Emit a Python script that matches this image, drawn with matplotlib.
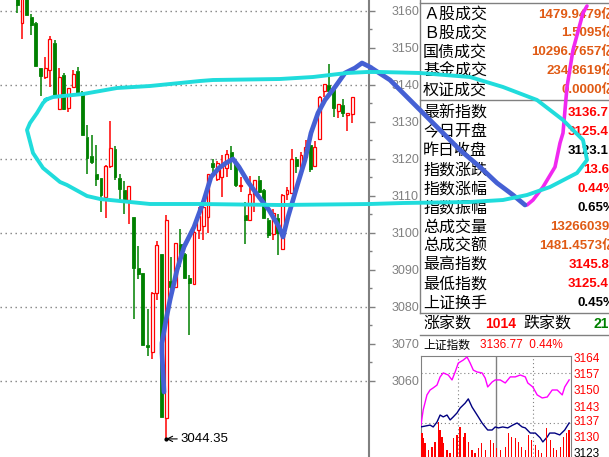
import matplotlib
matplotlib.use("Agg")
import matplotlib.pyplot as plt
from matplotlib.patches import Rectangle

plt.rcParams["font.family"] = ["Liberation Sans", "Noto Sans CJK SC", "DejaVu Sans"]

W, H = 609, 457
GRAY = "#808080"
UP = "#FF0000"
DOWN = "#008000"
ORANGE = "#E05A14"

# daily candles, oldest first
opens = [3163.5, 3156.7, 3164.0, 3158.3, 3156.7, 3144.5, 3142.2, 3144.0, 3151.3, 3133.4,
         3142.6, 3133.7, 3139.4, 3143.8, 3138.1, 3126.0, 3120.8, 3116.0, 3114.8, 3109.8,
         3118.2, 3122.6, 3114.8, 3111.6, 3108.9, 3104.3, 3090.6, 3089.2, 3069.7, 3067.9,
         3083.7, 3094.3, 3049.9, 3087.0, 3085.5, 3097.0, 3094.3, 3087.9, 3086.1, 3100.8,
         3101.9, 3104.4, 3118.8, 3114.5, 3115.2, 3117.5, 3122.0, 3119.3, 3112.7, 3104.9,
         3103.5, 3110.5, 3114.3, 3111.6, 3103.5, 3099.6, 3104.0, 3095.6, 3110.5, 3110.9,
         3119.9, 3117.9, 3120.6, 3123.8, 3118.2, 3125.3, 3138.4, 3140.0, 3139.3, 3133.1,
         3134.6, 3132.0, 3132.1]
highs = [3165.0, 3165.5, 3165.0, 3159.2, 3157.0, 3144.5, 3147.5, 3153.2, 3152.2, 3144.5,
         3143.3, 3139.1, 3144.1, 3144.9, 3138.5, 3129.2, 3126.5, 3123.8, 3114.8, 3118.4,
         3130.3, 3123.5, 3116.0, 3114.1, 3112.7, 3104.3, 3096.5, 3089.2, 3079.5, 3084.0,
         3097.9, 3094.3, 3104.9, 3093.6, 3097.2, 3101.1, 3094.5, 3088.6, 3102.4, 3107.1,
         3107.0, 3116.0, 3119.9, 3119.5, 3121.1, 3122.4, 3123.6, 3119.5, 3115.2, 3108.5,
         3115.4, 3114.3, 3115.4, 3111.9, 3104.0, 3106.4, 3105.1, 3110.5, 3112.5, 3122.7,
         3120.6, 3121.9, 3125.1, 3124.9, 3124.9, 3137.0, 3140.2, 3145.7, 3139.3, 3134.8,
         3136.1, 3132.4, 3136.7]
lows = [3159.5, 3152.5, 3159.0, 3153.6, 3145.2, 3137.1, 3141.5, 3139.4, 3136.5, 3133.2,
        3133.2, 3132.8, 3139.4, 3137.6, 3126.6, 3116.0, 3118.6, 3112.7, 3105.8, 3104.0,
        3117.6, 3114.3, 3108.9, 3105.2, 3102.4, 3076.8, 3087.5, 3069.7, 3066.8, 3066.0,
        3081.9, 3050.4, 3044.35, 3082.2, 3085.5, 3090.9, 3087.9, 3072.4, 3086.1, 3098.3,
        3098.1, 3099.9, 3115.9, 3114.0, 3109.6, 3115.2, 3117.0, 3112.3, 3111.2, 3097.0,
        3103.3, 3105.8, 3110.9, 3104.0, 3098.6, 3098.1, 3094.1, 3095.5, 3109.0, 3110.9,
        3116.1, 3117.9, 3120.0, 3116.5, 3118.2, 3125.3, 3136.7, 3138.0, 3131.4, 3131.0,
        3131.4, 3127.6, 3129.8]
closes = [3161.7, 3164.0, 3159.0, 3156.3, 3145.2, 3142.5, 3144.5, 3152.4, 3136.8, 3142.1,
          3133.5, 3139.1, 3143.0, 3137.6, 3126.6, 3120.4, 3119.1, 3114.6, 3110.3, 3118.1,
          3122.9, 3115.2, 3112.0, 3108.9, 3112.7, 3090.6, 3088.9, 3069.7, 3069.3, 3083.7,
          3096.8, 3050.4, 3103.5, 3085.3, 3097.2, 3093.8, 3087.9, 3086.4, 3100.4, 3104.6,
          3106.9, 3115.9, 3117.9, 3119.0, 3117.9, 3121.3, 3119.9, 3113.0, 3113.0, 3103.5,
          3110.5, 3114.3, 3111.2, 3104.0, 3099.5, 3105.3, 3099.9, 3110.3, 3111.6, 3119.9,
          3118.2, 3121.1, 3123.3, 3117.3, 3123.2, 3136.8, 3140.2, 3138.5, 3133.7, 3134.8,
          3132.4, 3132.4, 3136.7]

price_ticks = list(range(3060, 3161, 10))
grid_levels = list(range(3060, 3161, 20))

# quote panel
trade_labels = ["Ａ股成交", "Ｂ股成交", "国债成交", "基金成交", "权证成交"]
trade_values = ["1479.9479亿", "1.5095亿", "10296.7657亿", "234.8619亿", "0.0000亿"]
index_labels = ["最新指数", "今日开盘", "昨日收盘", "指数涨跌", "指数涨幅", "指数振幅",
                "总成交量", "总成交额", "最高指数", "最低指数", "上证换手"]
index_values = ["3136.7", "3125.4", "3123.1", "13.6", "0.44%", "0.65%",
                "13266039", "1481.4573亿", "3145.8", "3125.4", "0.45%"]
index_colors = [UP, UP, "black", UP, UP, "black", ORANGE, ORANGE, UP, UP, "black"]
up_count = "1014"
down_count = "21"

# intraday mini chart
pink_t = [0, 4, 10, 15, 20, 26, 31, 36, 44, 50, 55, 60, 68, 74, 79, 84, 90, 98, 103,
          107, 114, 119, 127, 135, 143, 151, 159, 167, 171, 179, 186, 194, 202, 210,
          218, 226, 230, 237]
pink_v = [3134.2, 3141.4, 3147.8, 3149.9, 3150.8, 3152.0, 3155.5, 3157.2, 3156.3, 3154.2,
          3157.6, 3161.4, 3162.7, 3164.0, 3161.4, 3158.4, 3157.6, 3157.2, 3155.0, 3151.2,
          3153.3, 3154.2, 3154.2, 3152.9, 3155.5, 3155.5, 3156.3, 3155.5, 3152.9, 3151.2,
          3147.8, 3146.5, 3146.9, 3149.9, 3149.9, 3147.8, 3151.2, 3154.2]
navy_t = [0, 15, 20, 26, 31, 36, 42, 47, 52, 58, 63, 71, 76, 82, 87, 92, 98, 103, 107,
          114, 119, 124, 131, 139, 147, 154, 162, 167, 175, 183, 191, 195, 202, 206,
          214, 222, 230, 237]
navy_v = [3134.1, 3134.9, 3134.1, 3136.2, 3139.2, 3138.4, 3139.2, 3137.1, 3138.4, 3140.1,
          3142.2, 3144.3, 3146.1, 3142.6, 3140.5, 3138.4, 3135.8, 3134.1, 3132.8, 3132.8,
          3134.1, 3133.7, 3134.1, 3133.7, 3134.9, 3135.8, 3134.1, 3133.7, 3131.5, 3131.5,
          3129.4, 3127.7, 3129.8, 3131.5, 3131.5, 3130.7, 3132.8, 3135.8]
vol_t = [2, 4, 7, 12, 18, 23, 28, 31, 34, 36, 42, 47, 52, 58, 63, 68, 71, 76, 82, 87,
         92, 97, 103, 111, 116, 121, 127, 135, 140, 145, 151, 156, 161, 167, 172, 177,
         183, 188, 193, 201, 207, 212, 217, 223, 228, 233, 237]
vol = [24, 19, 14, 7, 10, 15, 35, 27, 20, 14, 7, 4, 19, 22, 30, 20, 24, 15, 7, 4,
       9, 14, 7, 17, 14, 9, 7, 10, 24, 20, 19, 15, 10, 7, 22, 17, 12, 7, 4, 29,
       17, 9, 7, 10, 20, 24, 27]
mini_ticks = [3164, 3157, 3150, 3143, 3137, 3130, 3123]

# hand-drawn strokes on the screenshot (screen pixels)
cyan_x = [45, 53, 83, 100, 117, 150, 200, 213, 280, 313, 347, 367, 380, 420, 470, 503,
          537, 563, 583, 587, 577, 550, 527, 503, 470, 403, 370, 280, 200, 150, 100, 87,
          67, 60, 43, 33, 27, 30, 37, 43, 47]
cyan_y = [100, 97, 94, 91, 88, 86, 81, 80, 79, 77, 73, 72, 72, 73, 77, 87, 100, 120,
          140, 160, 173, 187, 195, 200, 202, 203, 204, 205, 204, 204, 199, 196, 185, 182,
          168, 153, 130, 123, 113, 103, 99]
blue_x = [164, 162, 162, 166, 170, 174, 177, 184, 194, 204, 211, 219, 226, 233, 239, 248,
          259, 269, 279, 283, 288, 293, 298, 305, 311, 318, 325, 335, 345, 355, 362, 370,
          390, 420, 460, 480, 497, 513, 525]
blue_y = [392, 353, 343, 320, 300, 283, 270, 247, 227, 200, 177, 168, 163, 159, 167, 182,
          197, 210, 227, 237, 217, 200, 183, 160, 133, 113, 100, 87, 73, 68, 63, 67, 80,
          110, 150, 167, 183, 195, 205]
pink_x = [527, 533, 543, 555, 560, 563, 567, 573, 583, 587]
pink_y = [205, 200, 187, 167, 143, 133, 87, 50, 13, 6]


def main():
    fig = plt.figure(figsize=(W / 100, H / 100), dpi=100)
    fig.patch.set_facecolor("white")

    # ---- candlestick chart ----
    ax = fig.add_axes([0, 0, 369 / W, 1])
    ax.set_xlim(-3.72, 75.63)
    ax.set_ylim(3039.46, 3162.97)
    for lvl in grid_levels:
        ax.axhline(lvl, color=GRAY, lw=1, ls=(0, (1, 2.6)), zorder=0)

    bw = 0.62
    for i, (o, h, l, c) in enumerate(zip(opens, highs, lows, closes)):
        lo, hi = min(o, c), max(o, c)
        col = UP if c >= o else DOWN
        ax.vlines(i, l, lo, color=col, lw=1.1, zorder=2)
        ax.vlines(i, hi, h, color=col, lw=1.1, zorder=2)
        if c >= o:
            ax.add_patch(Rectangle((i - bw / 2, lo), bw, max(hi - lo, 0.15),
                                   facecolor="white", edgecolor=col, lw=0.9, zorder=3))
        else:
            ax.add_patch(Rectangle((i - bw / 2, lo), bw, max(hi - lo, 0.3),
                                   facecolor=col, edgecolor=col, lw=0.6, zorder=3))

    low_i = lows.index(min(lows))
    ax.plot(low_i, lows[low_i], "o", color="black", ms=2, zorder=4)
    ax.annotate(f"{lows[low_i]:.2f}", xy=(low_i, lows[low_i]), xytext=(10, 0),
                textcoords="offset points", va="center", ha="left", fontsize=9.5,
                arrowprops=dict(arrowstyle="->", color="black", lw=0.8,
                                shrinkA=0, shrinkB=0))

    ax.yaxis.tick_right()
    ax.set_yticks(price_ticks)
    ax.set_yticks([p + 5 for p in price_ticks[:-1]], minor=True)
    ax.tick_params(axis="y", which="major", length=4, width=1, color=GRAY,
                   labelcolor=GRAY, labelsize=9, pad=12)
    ax.tick_params(axis="y", which="minor", length=2, width=1, color=GRAY)
    ax.set_xticks([])
    for s in ("left", "top", "bottom"):
        ax.spines[s].set_visible(False)
    ax.spines["right"].set_color(GRAY)
    ax.spines["right"].set_linewidth(1.5)

    # ---- intraday mini chart ----
    mini = fig.add_axes([420.7 / W, 0, (571 - 420.7) / W, 101 / H])
    mini.set_xlim(0, 240)
    mini.set_ylim(3121.26, 3164.43)
    mini.set_xticks([])
    mini.yaxis.tick_right()
    mini.set_yticks(mini_ticks)
    mini.set_yticklabels([str(t) for t in mini_ticks])
    mini.tick_params(axis="y", length=0, pad=2, labelsize=8.5)
    for lab, t in zip(mini.get_yticklabels(), mini_ticks):
        lab.set_color("black" if t == mini_ticks[-1] else UP)
    for s in mini.spines.values():
        s.set_color(GRAY)
    mini.spines["bottom"].set_visible(False)
    for lvl in (3157.3, 3135.9):
        mini.axhline(lvl, color=GRAY, lw=0.8, ls=(0, (1, 2.5)))
    for t in (60, 180):
        mini.axvline(t, color=GRAY, lw=0.8, ls=(0, (1, 2.5)))
    mini.axvline(120, color=GRAY, lw=1)
    mini.plot(pink_t, pink_v, color="#FF00FF", lw=1, zorder=3)
    mini.plot(navy_t, navy_v, color="#000080", lw=1, zorder=3)

    vax = fig.add_axes(mini.get_position())
    vax.set_xlim(0, 240)
    vax.set_ylim(0, 101)
    vax.axis("off")
    vax.patch.set_alpha(0)
    vax.bar(vol_t, vol, width=2.2, color=UP, zorder=2)

    # ---- quote panel & strokes (screen pixel overlay) ----
    ov = fig.add_axes([0, 0, 1, 1])
    ov.set_xlim(0, W)
    ov.set_ylim(H, 0)
    ov.axis("off")
    ov.patch.set_alpha(0)

    ov.plot([420, 420], [0, 313], color=GRAY, lw=1)
    for yl in (3, 100, 313, 335):
        ov.plot([420, W], [yl, yl], color=GRAY, lw=1)

    cjk = ["Noto Sans CJK SC", "DejaVu Sans"]
    num = ["Liberation Sans", "Noto Sans CJK SC"]
    for k, (lab, val) in enumerate(zip(trade_labels, trade_values)):
        y = 14.5 + k * 18.9
        ov.text(423, y, lab, family=cjk, fontsize=11.5, va="center", ha="left")
        xr = 615 if val.endswith("亿") else 609
        ov.text(xr, y, val, family=num, fontsize=9.5, fontweight="bold",
                color=ORANGE, va="center", ha="right", clip_on=True)
    for k, (lab, val, col) in enumerate(zip(index_labels, index_values, index_colors)):
        y = 113 + k * 19
        ov.text(423, y, lab, family=cjk, fontsize=11.5, va="center", ha="left")
        xr = 615 if val.endswith(("亿", "%")) else 609
        ov.text(xr, y, val, family=num, fontsize=9.5, fontweight="bold",
                color=col, va="center", ha="right", clip_on=True)

    ov.text(423, 324, "涨家数", family=cjk, fontsize=11.5, va="center")
    ov.text(485, 324, up_count, family=num, fontsize=10, fontweight="bold",
            color=UP, va="center")
    ov.text(523, 324, "跌家数", family=cjk, fontsize=11.5, va="center")
    ov.text(593, 324, down_count, family=num, fontsize=10, fontweight="bold",
            color=DOWN, va="center")
    ov.text(423, 345, "上证指数", family=cjk, fontsize=8.5, va="center")
    ov.text(480, 345, f"{closes[-1] + 0.07:.2f}  0.44%", family=num, fontsize=8.5,
            color=UP, va="center")

    ov.plot(pink_x, pink_y, color="#F028F0", lw=2.6, solid_capstyle="round", zorder=6)
    ov.plot(blue_x, blue_y, color="#4560D4", lw=3.4, solid_capstyle="round",
            solid_joinstyle="round", zorder=7)
    ov.plot(cyan_x, cyan_y, color="#20DCDC", lw=2.8, solid_capstyle="round",
            solid_joinstyle="round", zorder=8)

    fig.savefig("out.png", dpi=100, facecolor="white")
    plt.close(fig)


if __name__ == "__main__":
    main()
